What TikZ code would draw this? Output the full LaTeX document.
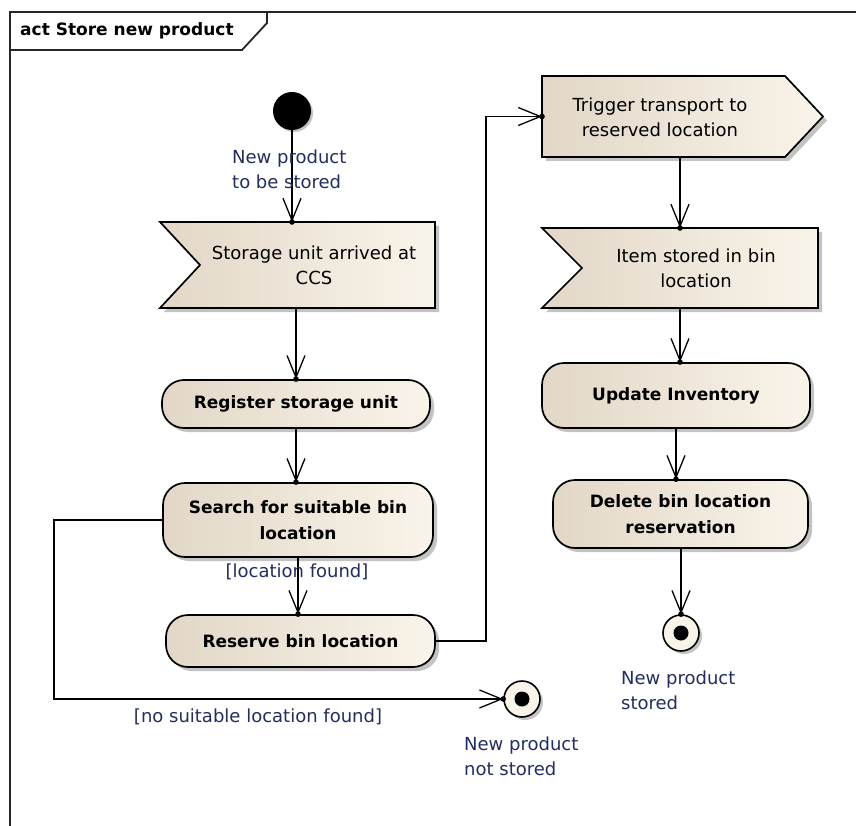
\documentclass[tikz,border=0pt]{standalone}
\usepackage{fontspec}
\setmainfont{DejaVu Sans}
\usetikzlibrary{arrows.meta,decorations.markings,shadows}
\definecolor{lblc}{RGB}{35,45,95}
\definecolor{fillL}{RGB}{226,215,199}
\definecolor{fillR}{RGB}{249,244,234}
\definecolor{shad}{RGB}{195,195,195}
\tikzset{
  regtext/.style={font=\fontsize{18}{25}\selectfont, align=center, inner sep=0pt},
  boldtext/.style={font=\fontsize{17}{26}\bfseries\selectfont, align=center, inner sep=0pt},
  lbl/.style={font=\fontsize{18}{25}\selectfont, text=lblc, align=left, inner sep=0pt},
  guard/.style={font=\fontsize{18}{25}\selectfont, text=lblc, inner sep=0pt},
  actbox/.style={boldtext, draw=black, line width=1.7pt, rounded corners=22pt,
    left color=fillL, right color=fillR,
    drop shadow={shadow xshift=4pt, shadow yshift=-4pt, fill=shad, opacity=1}},
  bbox/.style={inner sep=0pt, outer sep=0pt},
  sigshape/.style={draw=black, line width=1.7pt, left color=fillL, right color=fillR,
    preaction={fill=shad, transform canvas={xshift=4pt, yshift=-4pt}}},
  initnode/.style={circle, fill=black, minimum size=38pt, inner sep=0pt,
    drop shadow={shadow xshift=2pt, shadow yshift=-2pt, fill=shad, opacity=1}},
  finalnode/.style={circle, draw=black, line width=1.6pt, fill=fillR, minimum size=36pt, inner sep=0pt,
    drop shadow={shadow xshift=3pt, shadow yshift=-3pt, fill=shad, opacity=1},
    path picture={\fill[black] (path picture bounding box.center) circle (7.5pt);}},
  flow/.style={draw=black, line width=1.6pt,
    -{Straight Barb[length=22pt, width=18pt, line width=1.3pt]},
    postaction={decorate, decoration={markings, mark=at position 1 with {\fill[black] (0,0) circle (2.8pt);}}}},
  framepen/.style={draw=black!85, line width=1.8pt}
}
\begin{document}
\begin{tikzpicture}[x=1pt, y=-1pt]
\useasboundingbox (0,0) rectangle (856,826);
\fill[white] (0,0) rectangle (856,826);

% frame
\draw[framepen] (10,826) -- (10,12) -- (856,12);
\draw[framepen] (10,50) -- (242,50) -- (267,23) -- (267,12);
\node[boldtext, anchor=west] (title) at (20,31) {act Store new product};

% initial node
\node[initnode] (init) at (292,111) {};

% accept event: storage unit arrived
\node[bbox, minimum width=275pt, minimum height=86pt] (storage) at (297.5,265) {};
\path[sigshape] (storage.north west) -- (storage.north east) -- (storage.south east)
  -- (storage.south west) -- ([xshift=40pt]storage.west) -- cycle;
\node[regtext] (storagetxt) at (314,265) {Storage unit arrived at\\CCS};

% actions left
\node[actbox, minimum width=268pt, minimum height=48pt] (register) at (296,404) {Register storage unit};
\node[actbox, minimum width=270pt, minimum height=74pt] (search) at (298,520) {Search for suitable bin\\location};
\node[actbox, minimum width=269pt, minimum height=52pt] (reserve) at (300.5,641) {Reserve bin location};

% send signal: trigger transport
\node[bbox, minimum width=281pt, minimum height=81pt] (trigger) at (682.5,116.5) {};
\path[sigshape] (trigger.north west) -- ([xshift=-38pt]trigger.north east) -- (trigger.east)
  -- ([xshift=-38pt]trigger.south east) -- (trigger.south west) -- cycle;
\node[regtext] (triggertxt) at (660,117) {Trigger transport to\\reserved location};

% accept event: item stored
\node[bbox, minimum width=276pt, minimum height=80pt] (item) at (680,268) {};
\path[sigshape] (item.north west) -- (item.north east) -- (item.south east)
  -- (item.south west) -- ([xshift=40pt]item.west) -- cycle;
\node[regtext] (itemtxt) at (696,268) {Item stored in bin\\location};

% actions right
\node[actbox, minimum width=268pt, minimum height=65pt] (update) at (676,395.5) {Update Inventory};
\node[actbox, minimum width=255pt, minimum height=68pt] (delete) at (680.5,514) {Delete bin location\\reservation};

% final nodes
\node[finalnode] (final1) at (522,699) {};
\node[finalnode] (final2) at (681,633) {};

% bend coordinates
\coordinate (bendA) at (486,400);
\coordinate (bendB) at (54,600);

% connectors
\draw[flow] (init) -- (init |- storage.north);
\draw[flow] (register.north |- storage.south) -- (register.north);
\draw[flow] (register.south) -- (register.south |- search.north);
\draw[flow] (search.south) -- (search.south |- reserve.north);
\draw[flow] (reserve.east) -| (bendA) |- (trigger.west);
\draw[flow] (search.west) -| (bendB) |- (final1.west);
\draw[flow] (item.north |- trigger.south) -- (item.north);
\draw[flow] (item.south) -- (item.south |- update.north);
\draw[flow] (update.south) -- (update.south |- delete.north);
\draw[flow] (delete.south -| final2) -- (final2.north);

% labels
\node[lbl, anchor=west] (initlbl) at (232,169) {New product\\to be stored};
\node[guard] (g1) at (297,572) {[location found]};
\node[guard] (g2) at (258,717) {[no suitable location found]};
\node[lbl, anchor=west] (f1lbl) at (464,756) {New product\\not stored};
\node[lbl, anchor=west] (f2lbl) at (621,690) {New product\\stored};
\end{tikzpicture}
\end{document}
